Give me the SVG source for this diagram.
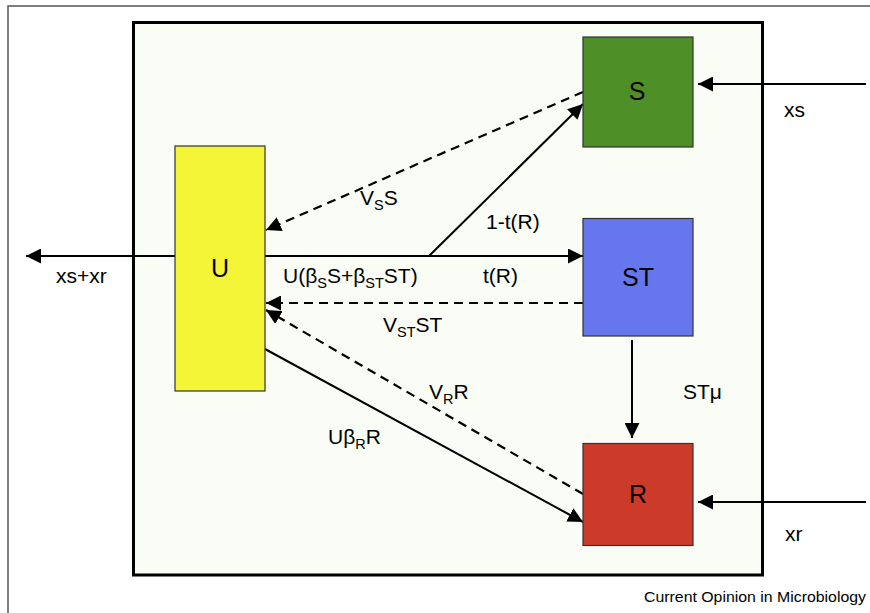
<svg xmlns="http://www.w3.org/2000/svg" width="870" height="613" viewBox="0 0 870 613">
<defs>
<marker id="ah" markerUnits="userSpaceOnUse" markerWidth="16" markerHeight="15" refX="15" refY="7.5" orient="auto">
<path d="M0,0 L15,7.5 L0,15 Z" fill="#000"/>
</marker>
<style>
text{font-family:"Liberation Sans",Arial,sans-serif;fill:#000}
.lbl{font-size:21px}
.big{font-size:25px;text-anchor:middle}
.sub{font-size:14.5px}
.node{stroke:#333;stroke-width:1.2}
.solid{stroke:#000;stroke-width:2;fill:none;marker-end:url(#ah)}
.dash{stroke:#000;stroke-width:2.2;fill:none;stroke-dasharray:9 6;marker-end:url(#ah)}
</style>
</defs>
<rect x="0" y="0" width="870" height="613" fill="#fff"/>
<rect x="8" y="6" width="880" height="640" fill="#fff" stroke="#555" stroke-width="1.5"/>
<rect x="133.5" y="22.5" width="629" height="552.5" fill="#f9fdf5" stroke="#000" stroke-width="3"/>

<g id="connectors">
<line class="solid" x1="265" y1="256" x2="583" y2="256"/>
<line class="solid" x1="429" y1="256" x2="583" y2="104"/>
<line class="dash" x1="583" y1="92" x2="266" y2="230"/>
<line class="dash" x1="583" y1="303" x2="266" y2="303"/>
<line class="dash" x1="583" y1="494" x2="266" y2="310"/>
<line class="solid" x1="265" y1="349" x2="583" y2="522"/>
<line class="solid" x1="632" y1="340" x2="632" y2="438"/>
<line class="solid" x1="866" y1="84" x2="698" y2="84"/>
<line class="solid" x1="866" y1="502" x2="698" y2="502"/>
<line class="solid" x1="175" y1="256" x2="26" y2="256"/>
</g>

<g id="U"><rect class="node" x="175" y="146" width="90" height="245" fill="#f4f536"/><text class="big" x="220" y="277">U</text></g>
<g id="S"><rect class="node" x="583" y="37" width="110" height="110" fill="#4e8f27"/><text class="big" x="637" y="100">S</text></g>
<g id="ST"><rect class="node" x="583" y="218.5" width="110" height="117.5" fill="#6677ee"/><text class="big" x="638" y="286">ST</text></g>
<g id="R"><rect class="node" x="583" y="443.5" width="110" height="102" fill="#cc3a2a"/><text class="big" x="638" y="503">R</text></g>

<g id="labels">
<text class="lbl" x="360" y="205">V<tspan class="sub" dy="5">S</tspan><tspan dy="-5">S</tspan></text>
<text class="lbl" x="486" y="229">1-t(R)</text>
<text class="lbl" x="283" y="283">U(β<tspan class="sub" dy="5">S</tspan><tspan dy="-5">S+β</tspan><tspan class="sub" dy="5">ST</tspan><tspan dy="-5">ST)</tspan></text>
<text class="lbl" x="483" y="283">t(R)</text>
<text class="lbl" x="383" y="332">V<tspan class="sub" dy="5">ST</tspan><tspan dy="-5">ST</tspan></text>
<text class="lbl" x="429" y="399">V<tspan class="sub" dy="5">R</tspan><tspan dy="-5">R</tspan></text>
<text class="lbl" x="328" y="444">Uβ<tspan class="sub" dy="5">R</tspan><tspan dy="-5">R</tspan></text>
<text class="lbl" x="683" y="399">STμ</text>
<text class="lbl" x="784" y="117">xs</text>
<text class="lbl" x="785" y="541">xr</text>
<text class="lbl" x="56" y="283">xs+xr</text>
<text x="644" y="602" font-size="15" textLength="222" lengthAdjust="spacingAndGlyphs">Current Opinion in Microbiology</text>
</g>
</svg>
